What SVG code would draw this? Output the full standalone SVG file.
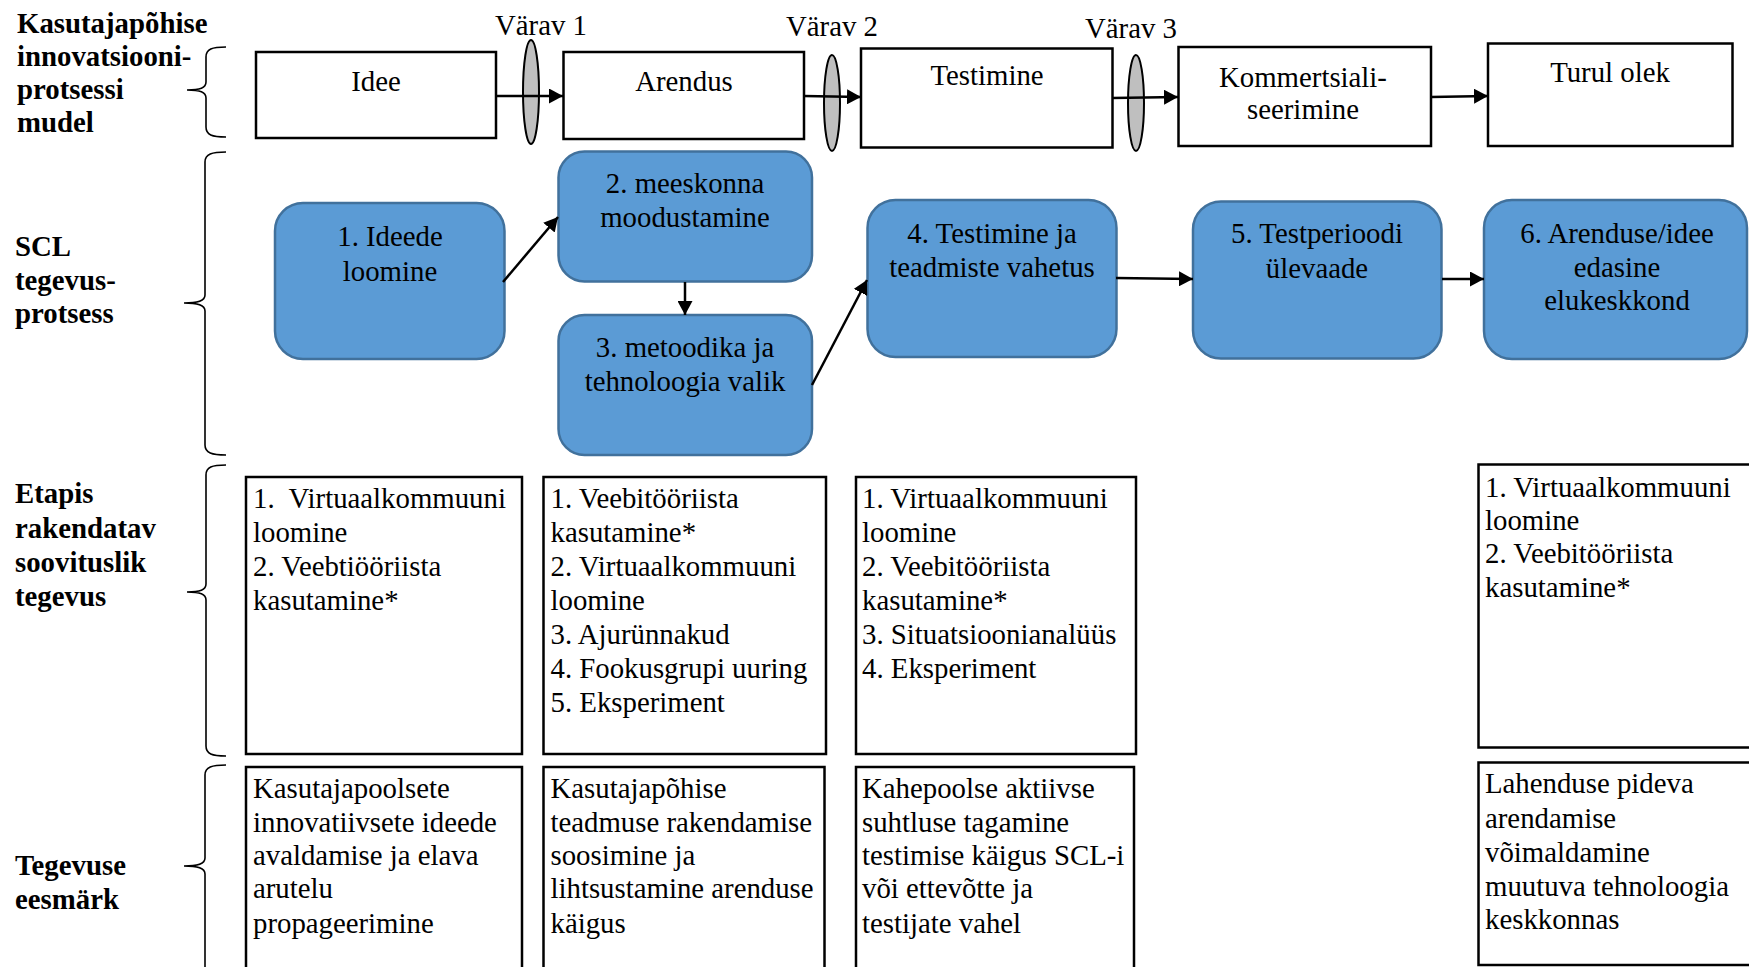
<svg xmlns="http://www.w3.org/2000/svg" width="1749" height="967" viewBox="0 0 1749 967" font-family="'Times New Roman', 'Liberation Serif', Tinos, 'DejaVu Serif', serif">
<style>
text{font-family:"Times New Roman","Liberation Serif",Tinos,"DejaVu Serif",serif;font-size:28.8px;fill:#000}
.b{font-weight:bold}
.c{text-anchor:middle}
.box{fill:#fff;stroke:#000;stroke-width:2.5}
.blue{fill:#5B9BD5;stroke:#41719C;stroke-width:2.5}
.gate{fill:#BFBFBF;stroke:#000;stroke-width:2}
.brace{fill:none;stroke:#000;stroke-width:1.6}
.con{stroke:#000;stroke-width:2.5;fill:none;marker-end:url(#ah)}
</style>
<defs>
<marker id="ah" markerUnits="userSpaceOnUse" markerWidth="15" markerHeight="15" refX="14" refY="7.5" orient="auto">
<path d="M0,0 L14,7.5 L0,15 z" fill="#000"/>
</marker>
</defs>
<rect width="1749" height="967" fill="#fff"/>

<g id="labels">
<text class="b" x="17" y="33">Kasutajapõhise</text>
<text class="b" x="17" y="66">innovatsiooni-</text>
<text class="b" x="17" y="99">protsessi</text>
<text class="b" x="17" y="132">mudel</text>
<text class="b" x="15" y="256">SCL</text>
<text class="b" x="15" y="290">tegevus-</text>
<text class="b" x="15" y="323">protsess</text>
<text class="b" x="15" y="503">Etapis</text>
<text class="b" x="15" y="537.5">rakendatav</text>
<text class="b" x="15" y="572">soovituslik</text>
<text class="b" x="15" y="606">tegevus</text>
<text class="b" x="15" y="875">Tegevuse</text>
<text class="b" x="15" y="908.5">eesmärk</text>
</g>

<g id="braces">
<path class="brace" d="M226,47 C212,47 206,49 206,57 L206,82 C206,88 200,90 187,90 C200,90 206,92 206,98 L206,127 C206,135 212,137 226,137"/>
<path class="brace" d="M226,152 C212,152 205,154 205,162 L205,295 C205,301 198,303 184,303 C198,303 205,305 205,311 L205,445 C205,453 212,455 226,455"/>
<path class="brace" d="M226,465 C212,465 206,467 206,475 L206,584 C206,590 200,592 187,592 C200,592 206,594 206,600 L206,746 C206,754 212,756 226,756"/>
<path class="brace" d="M226,765 C212,765 205,767 205,775 L205,858 C205,864 198,866 184,866 C198,866 205,868 205,874 L205,980"/>
</g>

<g id="gate1"><ellipse class="gate" cx="531" cy="92" rx="8" ry="52"/><text x="495" y="35">Värav 1</text></g>
<g id="gate2"><ellipse class="gate" cx="832" cy="103" rx="8" ry="48"/><text x="786" y="36">Värav 2</text></g>
<g id="gate3"><ellipse class="gate" cx="1136" cy="103" rx="8" ry="48"/><text x="1085" y="38">Värav 3</text></g>

<g id="idee"><rect class="box" x="256" y="52" width="240" height="86"/><text class="c" x="376" y="91">Idee</text></g>
<g id="arendus"><rect class="box" x="563.5" y="52" width="240.5" height="87"/><text class="c" x="684" y="90.5">Arendus</text></g>
<g id="testimine"><rect class="box" x="861" y="48.5" width="251.5" height="99"/><text class="c" x="987" y="85">Testimine</text></g>
<g id="kommertsialiseerimine"><rect class="box" x="1178.5" y="47" width="252.5" height="99"/><text class="c" x="1303" y="86.5">Kommertsiali-</text><text class="c" x="1303" y="118.5">seerimine</text></g>
<g id="turul"><rect class="box" x="1488" y="43.5" width="244.5" height="102.5"/><text class="c" x="1610" y="81.5">Turul olek</text></g>

<g id="s1"><rect class="blue" x="275" y="203" width="229.5" height="156" rx="28"/><text class="c" x="390" y="246">1. Ideede</text><text class="c" x="390" y="280.5">loomine</text></g>
<g id="s2"><rect class="blue" x="558.5" y="151.5" width="253.5" height="130" rx="26"/><text class="c" x="685" y="193">2. meeskonna</text><text class="c" x="685" y="226.5">moodustamine</text></g>
<g id="s3"><rect class="blue" x="558.5" y="315" width="253.5" height="140" rx="26"/><text class="c" x="685" y="356.5">3. metoodika ja</text><text class="c" x="685" y="390.5">tehnoloogia valik</text></g>
<g id="s4"><rect class="blue" x="867.5" y="200" width="249" height="157" rx="28"/><text class="c" x="992" y="242.5">4. Testimine ja</text><text class="c" x="992" y="276.5">teadmiste vahetus</text></g>
<g id="s5"><rect class="blue" x="1193" y="201.5" width="248.5" height="157" rx="28"/><text class="c" x="1317" y="243">5. Testperioodi</text><text class="c" x="1317" y="278">ülevaade</text></g>
<g id="s6"><rect class="blue" x="1484" y="200" width="263" height="159" rx="28"/><text class="c" x="1617" y="242.5">6. Arenduse/idee</text><text class="c" x="1617" y="276.5">edasine</text><text class="c" x="1617" y="310">elukeskkond</text></g>

<g id="t1"><rect class="box" x="246" y="477" width="276" height="277"/>
<text x="253" y="508.3" xml:space="preserve">1.  Virtuaalkommuuni</text><text x="253" y="542.2">loomine</text><text x="253" y="576.1">2. Veebtiööriista</text><text x="253" y="610">kasutamine*</text></g>
<g id="t2"><rect class="box" x="543.5" y="477" width="282.5" height="277"/>
<text x="550.5" y="508.3">1. Veebitööriista</text><text x="550.5" y="542.2">kasutamine*</text><text x="550.5" y="576.1">2. Virtuaalkommuuni</text><text x="550.5" y="610">loomine</text><text x="550.5" y="643.9">3. Ajurünnakud</text><text x="550.5" y="677.8">4. Fookusgrupi uuring</text><text x="550.5" y="711.7">5. Eksperiment</text></g>
<g id="t3"><rect class="box" x="856" y="477" width="280" height="277"/>
<text x="862" y="508.3">1. Virtuaalkommuuni</text><text x="862" y="542.2">loomine</text><text x="862" y="576.1">2. Veebitööriista</text><text x="862" y="610">kasutamine*</text><text x="862" y="643.9">3. Situatsioonianalüüs</text><text x="862" y="677.8">4. Eksperiment</text></g>
<g id="t6"><rect class="box" x="1478.5" y="464.5" width="285" height="283"/>
<text x="1485" y="496.7">1. Virtuaalkommuuni</text><text x="1485" y="530">loomine</text><text x="1485" y="563.3">2. Veebitööriista</text><text x="1485" y="596.7">kasutamine*</text></g>

<g id="g1"><rect class="box" x="246" y="767" width="276" height="230"/>
<text x="253" y="798.3">Kasutajapoolsete</text><text x="253" y="831.7">innovatiivsete ideede</text><text x="253" y="865">avaldamise ja elava</text><text x="253" y="898.3">arutelu</text><text x="253" y="932.5">propageerimine</text></g>
<g id="g2"><rect class="box" x="543.5" y="767" width="281" height="230"/>
<text x="550.5" y="798.3">Kasutajapõhise</text><text x="550.5" y="831.7">teadmuse rakendamise</text><text x="550.5" y="865">soosimine ja</text><text x="550.5" y="898.3">lihtsustamine arenduse</text><text x="550.5" y="932.5">käigus</text></g>
<g id="g3"><rect class="box" x="856" y="767" width="278" height="230"/>
<text x="862" y="798.3">Kahepoolse aktiivse</text><text x="862" y="831.7">suhtluse tagamine</text><text x="862" y="865">testimise käigus SCL-i</text><text x="862" y="898.3">või ettevõtte ja</text><text x="862" y="932.5">testijate vahel</text></g>
<g id="g6"><rect class="box" x="1478.5" y="762.5" width="285" height="202.5"/>
<text x="1485" y="793.3">Lahenduse pideva</text><text x="1485" y="828.3">arendamise</text><text x="1485" y="862.3">võimaldamine</text><text x="1485" y="895.7">muutuva tehnoloogia</text><text x="1485" y="929">keskkonnas</text></g>

<g id="connectors">
<line class="con" x1="496" y1="96" x2="563" y2="96"/>
<line class="con" x1="804" y1="96" x2="861" y2="97"/>
<line class="con" x1="1112" y1="98" x2="1178" y2="97"/>
<line class="con" x1="1431" y1="97" x2="1488" y2="96"/>
<line class="con" x1="503" y1="282" x2="558" y2="217"/>
<line class="con" x1="685" y1="282" x2="685" y2="315"/>
<line class="con" x1="812" y1="385" x2="867" y2="280"/>
<line class="con" x1="1116" y1="278" x2="1193" y2="279"/>
<line class="con" x1="1442" y1="279" x2="1484" y2="279"/>
</g>
</svg>
